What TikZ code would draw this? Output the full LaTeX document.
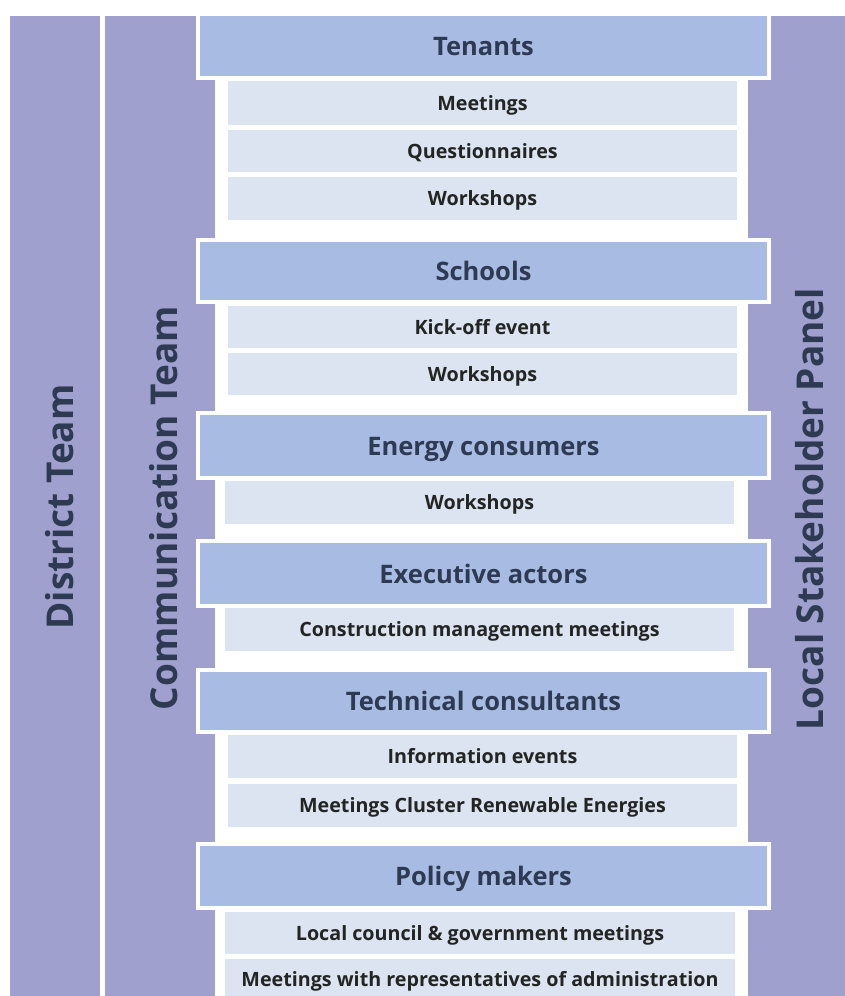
\documentclass[tikz,border=0pt]{standalone}
\usepackage{fontspec}
\setmainfont{Open Sans}
\definecolor{barc}{HTML}{A0A0CF}
\definecolor{hdrc}{HTML}{A8BCE3}
\definecolor{subc}{HTML}{DCE3F1}
\definecolor{hdrtext}{HTML}{2E3A52}
\definecolor{subtext}{HTML}{222522}
\begin{document}
\begin{tikzpicture}[x=1pt,y=-1pt,
  bar/.style={fill=barc, draw=none, inner sep=0pt, anchor=north west},
  sidetext/.style={rotate=90, font=\fontsize{37}{40}\selectfont\bfseries, text=hdrtext, inner sep=0pt},
  hdr/.style={fill=hdrc, draw=white, line width=4pt, inner sep=0pt, minimum width=571pt,
    text height=19.5pt, text depth=0pt,
    font=\fontsize{25.5}{28}\selectfont\bfseries, text=hdrtext},
  sub/.style={fill=subc, draw=none, inner sep=0pt, minimum width=509pt,
    text height=14.5pt, text depth=0pt,
    font=\fontsize{19.7}{22}\selectfont\bfseries, text=subtext}]
\useasboundingbox (0,0) rectangle (845,996);
\begin{scope}
\clip (0,0) rectangle (845,996);
% side bars
\node[bar, minimum width=90pt, minimum height=980pt] (district) at (10,16) {};
\node[bar, minimum width=110pt, minimum height=980pt] (comm) at (105,16) {};
\node[bar, minimum width=97pt, minimum height=980pt] (panel) at (748,16) {};
\node[sidetext] (districtlbl) at (60,507) {District Team};
\node[sidetext] (commlbl) at (164,508) {Communication Team};
\node[sidetext] (panellbl) at (810,509) {Local Stakeholder Panel};
% Tenants
\node[hdr, minimum height=64pt] (tenants) at (483.5,46) {Tenants};
\node[sub, minimum height=44pt] (t1) at (482.5,103) {Meetings};
\node[sub, minimum height=42pt] (t2) at (482.5,151) {Questionnaires};
\node[sub, minimum height=43pt] (t3) at (482.5,198.5) {Workshops};
% Schools
\node[hdr, minimum height=62pt] (schools) at (483.5,271) {Schools};
\node[sub, minimum height=42pt] (s1) at (482.5,327) {Kick-off event};
\node[sub, minimum height=42pt] (s2) at (482.5,374) {Workshops};
% Energy consumers
\node[hdr, minimum height=65pt] (energy) at (483.5,445.5) {Energy consumers};
\node[sub, minimum height=43pt] (e1) at (479.5,502.5) {Workshops};
% Executive actors
\node[hdr, minimum height=65pt] (exec) at (483.5,573.5) {Executive actors};
\node[sub, minimum height=43pt] (x1) at (479.5,629.5) {Construction management meetings};
% Technical consultants
\node[hdr, minimum height=62pt] (tech) at (483.5,701) {Technical consultants};
\node[sub, minimum height=43pt] (c1) at (482.5,756.5) {Information events};
\node[sub, minimum height=43pt] (c2) at (482.5,805.5) {Meetings Cluster Renewable Energies};
% Policy makers
\node[hdr, minimum height=64pt] (policy) at (483.5,876) {Policy makers};
\node[sub, minimum width=510pt, minimum height=42pt] (p1) at (480,933) {Local council \& government meetings};
\node[sub, minimum width=510pt, minimum height=41pt] (p2) at (480,979.5) {Meetings with representatives of administration};
\end{scope}
\end{tikzpicture}
\end{document}
